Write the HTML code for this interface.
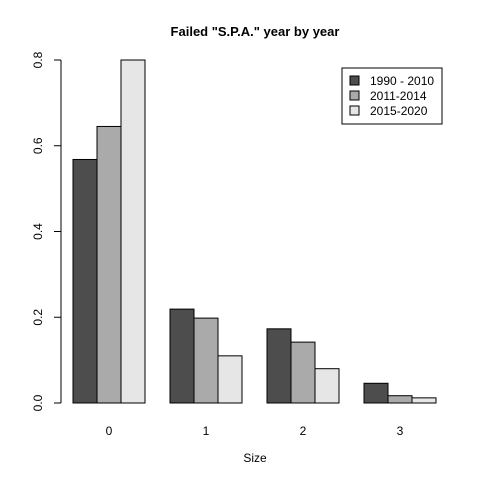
<!DOCTYPE html>
<html><head><meta charset="utf-8"><style>body{margin:0;background:#fff}svg{display:block;font-family:"Liberation Sans",Arial,sans-serif}</style></head>
<body>
<svg id="chart" width="480" height="480" xmlns="http://www.w3.org/2000/svg">
<rect width="480" height="480" fill="#fff"/>
<text x="255" y="36" text-anchor="middle" font-size="13" font-weight="bold">Failed "S.P.A." year by year</text>
<text x="255" y="462" text-anchor="middle" font-size="12">Size</text>
<g id="bars"></g>
<g id="yaxis"></g>
<g id="xlabels"></g>
<g>
<rect x="342" y="68" width="100" height="56" fill="#fff" stroke="#000"/>
<g id="legend"></g>
</g>
</svg>
<script>
const categories=["0","1","2","3"];
const seriesNames=["1990 - 2010","2011-2014","2015-2020"];
const s1990=[0.568,0.219,0.173,0.046];
const s2011=[0.645,0.198,0.142,0.017];
const s2015=[0.800,0.110,0.080,0.012];
const yTicks=[0,0.2,0.4,0.6,0.8];
const yTickLabels=["0.0","0.2","0.4","0.6","0.8"];
const colors=["#4d4d4d","#aaaaaa","#e6e6e6"];
const NS="http://www.w3.org/2000/svg";
const y0=403, yScale=(403-60)/0.8;
const y=v=>y0-v*yScale;
const barW=24, groupStart=73, groupStep=97;
const x=(g,s)=>groupStart+g*groupStep+s*barW;
const series=[s1990,s2011,s2015];
const bars=document.getElementById('bars');
series.forEach((vals,s)=>vals.forEach((v,g)=>{
 const r=document.createElementNS(NS,'rect');
 
 
 r.setAttribute('x',x(g,s));r.setAttribute('y',y(v));
 r.setAttribute('width',barW);r.setAttribute('height',y0-y(v));
 r.setAttribute('fill',colors[s]);r.setAttribute('stroke','#000');
 bars.appendChild(r);
}));
const ya=document.getElementById('yaxis');
let h='<line x1="61" x2="61" y1="'+y(yTicks[0])+'" y2="'+y(yTicks[yTicks.length-1])+'" stroke="#000"/>';
yTicks.forEach((t,i)=>{const yy=y(t);
 h+='<line x1="54" x2="61" y1="'+yy+'" y2="'+yy+'" stroke="#000"/>';
 h+='<text x="42" y="'+yy+'" font-size="12" text-anchor="middle" transform="rotate(-90 42 '+yy+')">'+yTickLabels[i]+'</text>';});
ya.innerHTML=h;


const xl=document.getElementById('xlabels');
categories.forEach((c,g)=>{const t=document.createElementNS(NS,'text');
 
 
 t.setAttribute('x',x(g,1.5));t.setAttribute('y',435);t.setAttribute('text-anchor','middle');t.setAttribute('font-size','12');
 t.textContent=c;xl.appendChild(t);});
const lg=document.getElementById('legend');
seriesNames.forEach((n,i)=>{const yy=76+i*15;
 const r=document.createElementNS(NS,'rect');
 
 
 r.setAttribute('x',350);r.setAttribute('y',yy);r.setAttribute('width',9);r.setAttribute('height',9);
 r.setAttribute('fill',colors[i]);r.setAttribute('stroke','#000');lg.appendChild(r);
 const t=document.createElementNS(NS,'text');
 
 
 t.setAttribute('x',370);t.setAttribute('y',yy+9);t.setAttribute('font-size','12');
 t.textContent=n;lg.appendChild(t);});
</script>
</body></html>
